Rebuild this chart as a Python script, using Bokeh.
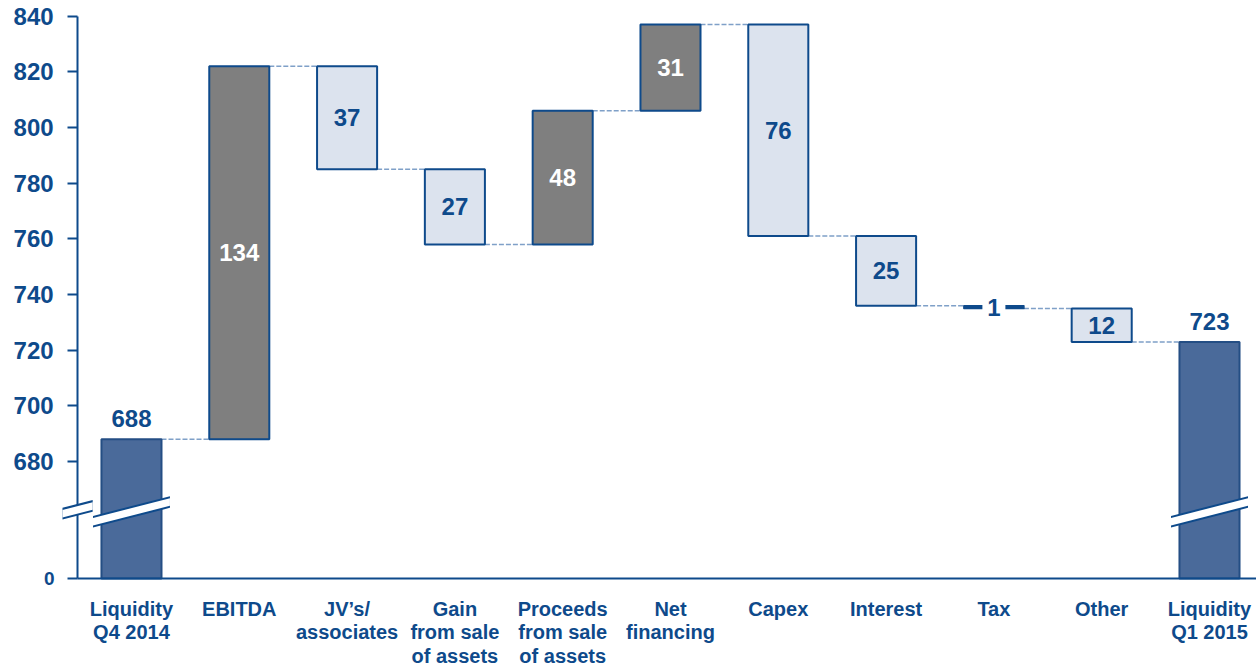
from bokeh.plotting import figure
from bokeh.models import ColumnDataSource, FixedTicker, PolyAnnotation, Label
from bokeh.embed import file_html
from bokeh.resources import INLINE
from bokeh.core.properties import value

# ---------------- data ----------------
categories = ["Liquidity\nQ4 2014", "EBITDA", "JV\u2019s/\nassociates", "Gain\nfrom sale\nof assets",
              "Proceeds\nfrom sale\nof assets", "Net\nfinancing", "Capex", "Interest", "Tax", "Other",
              "Liquidity\nQ1 2015"]
start_total = 688
changes = [134, -37, -27, 48, 31, -76, -25, -1, -12]
end_total = 723
y_tick_values = [0, 680, 700, 720, 740, 760, 780, 800, 820, 840]

# ---------------- styling ----------------
FONT = "Liberation Sans"
DARK = "#0E4A8B"
TOTAL_FILL = "#4A6A9A"
TOTAL_LINE = "#244E84"
UP_FILL = "#7F7F7F"
DOWN_FILL = "#DCE3EE"
CONNECT = "#7FA0C8"
W = 0.557
BREAK_LO = 680          # axis is broken below this value
BASE = 638              # display position of value 0
X_START, X_END = -1.215, 10.436
Y_START, Y_END = 605.7, 845.6
AXIS_X = -0.5
LABEL_GAP = 7.4


def disp(v):
    return v if v >= BREAK_LO else BASE


# ---------------- derived geometry ----------------
n = len(categories)
xs = list(range(n))
levels = [start_total]
for c in changes:
    levels.append(levels[-1] + c)

bar_x, bar_bot, bar_top, fills, lines = [], [], [], [], []
lab_x, lab_y, lab_txt, lab_col = [], [], [], []
tax_x, tax_bot, tax_top, tax_lab = [], [], [], []
top_x, top_y, top_txt = [], [], []

# start total
bar_x.append(0); bar_bot.append(disp(0)); bar_top.append(start_total)
fills.append(TOTAL_FILL); lines.append(TOTAL_LINE)
top_x.append(0); top_y.append(start_total + LABEL_GAP); top_txt.append(str(start_total))

for i, c in enumerate(changes):
    x = i + 1
    a, b = levels[i], levels[i + 1]
    if abs(c) < 2:
        tax_x.append(x); tax_bot.append(min(a, b)); tax_top.append(max(a, b)); tax_lab.append(str(abs(c)))
        continue
    bar_x.append(x); bar_bot.append(min(a, b)); bar_top.append(max(a, b))
    fills.append(UP_FILL if c > 0 else DOWN_FILL); lines.append(DARK)
    lab_x.append(x); lab_y.append((a + b) / 2); lab_txt.append(str(abs(c)))
    lab_col.append("white" if c > 0 else DARK)

# end total
bar_x.append(n - 1); bar_bot.append(disp(0)); bar_top.append(end_total)
fills.append(TOTAL_FILL); lines.append(TOTAL_LINE)
top_x.append(n - 1); top_y.append(end_total + LABEL_GAP); top_txt.append(str(end_total))

bars = ColumnDataSource(dict(left=[x - W / 2 for x in bar_x], right=[x + W / 2 for x in bar_x],
                             bottom=bar_bot, top=bar_top, fill=fills, line=lines))

# connectors between consecutive bars at running level
cx0 = [i + W / 2 for i in range(n - 1)]
cx1 = [i + 1 - W / 2 for i in range(n - 1)]
cy = levels[:]

# ---------------- figure ----------------
p = figure(width=1256, height=668, x_range=(X_START, X_END), y_range=(Y_START, Y_END),
           output_backend="svg", toolbar_location=None,
           min_border_left=0, min_border_right=0, min_border_top=0, min_border_bottom=0)
p.outline_line_color = None
p.grid.visible = False
p.background_fill_color = "white"
p.border_fill_color = "white"

p.segment(x0=cx0, y0=cy, x1=cx1, y1=cy, line_color=CONNECT, line_width=1.5, line_dash="5 2")

p.quad(left="left", right="right", bottom="bottom", top="top", fill_color="fill",
       line_color="line", line_width=2, source=bars)

# tax marker
tax_mid = [(a + b) / 2 for a, b in zip(tax_bot, tax_top)]
p.quad(left=[x - W / 2 for x in tax_x], right=[x + W / 2 for x in tax_x], bottom=tax_bot, top=tax_top,
       fill_color=DARK, line_color=DARK, line_width=1.5, line_join="round")
p.rect(x=tax_x, y=tax_mid, width=23, height=20,
       width_units="screen", height_units="screen", fill_color="white", line_color=None)
p.text(x=tax_x, y=tax_mid, text=tax_lab,
       text_font=value(FONT), text_font_style="bold", text_font_size="24px",
       text_align="center", text_baseline="middle", text_color=DARK)

# bar-break bands on the two totals
HALF = 0.357
y_a, y_b = 658.4, 665.5
OUT, INN = 2.1, 1.35
for x in (0, n - 1):
    p.patch(x=[x - HALF, x + HALF, x + HALF, x - HALF], y=[y_a - OUT, y_b - OUT, y_b + OUT, y_a + OUT],
            fill_color=DARK, line_color=None)
    p.patch(x=[x - HALF, x + HALF, x + HALF, x - HALF], y=[y_a - INN, y_b - INN, y_b + INN, y_a + INN],
            fill_color="white", line_color=None)

# value labels
p.text(x=lab_x, y=lab_y, text=lab_txt, text_color=lab_col, text_font=value(FONT), text_font_style="bold",
       text_font_size="24px", text_align="center", text_baseline="middle")
p.text(x=top_x, y=top_y, text=top_txt, text_color=DARK, text_font=value(FONT), text_font_style="bold",
       text_font_size="24px", text_align="center", text_baseline="middle")

# axes
yticks = [disp(v) for v in y_tick_values]
p.yaxis.fixed_location = AXIS_X
p.yaxis.ticker = FixedTicker(ticks=yticks)
p.yaxis.major_label_overrides = {disp(v): ("" if v < BREAK_LO else str(v)) for v in y_tick_values}
p.yaxis.bounds = (BASE, 840)
p.yaxis.axis_line_color = DARK
p.yaxis.axis_line_width = 2
p.yaxis.major_tick_line_color = DARK
p.yaxis.major_tick_line_width = 2
p.yaxis.major_tick_out = 10
p.yaxis.major_tick_in = 0
p.yaxis.minor_tick_line_color = None
p.yaxis.major_label_standoff = 14
p.yaxis.major_label_text_font = FONT
p.yaxis.major_label_text_font_style = "bold"
p.yaxis.major_label_text_font_size = "24px"
p.yaxis.major_label_text_color = DARK

p.xaxis.fixed_location = BASE
p.xaxis.ticker = FixedTicker(ticks=xs)
p.xaxis.bounds = (AXIS_X, X_END)
p.xaxis.major_label_overrides = {i: c for i, c in enumerate(categories)}
p.xaxis.axis_line_color = DARK
p.xaxis.axis_line_width = 2
p.xaxis.major_tick_line_color = None
p.xaxis.minor_tick_line_color = None
p.xaxis.major_tick_out = 0
p.xaxis.major_label_standoff = 19
p.xaxis.major_label_text_font = FONT
p.xaxis.major_label_text_font_style = "bold"
p.xaxis.major_label_text_font_size = "20px"
p.xaxis.major_label_text_line_height = 1.07
p.xaxis.major_label_text_color = DARK

# axis break on y axis and the "0" label
ax0, ax1 = -0.64, -0.36
ya0, ya1 = 661.3, 664.1
p.add_layout(PolyAnnotation(xs=[ax0, ax1, ax1, ax0], ys=[ya0 - OUT, ya1 - OUT, ya1 + OUT, ya0 + OUT],
                            fill_color=DARK, fill_alpha=1, line_color=None))
p.add_layout(PolyAnnotation(xs=[ax0, ax1, ax1, ax0], ys=[ya0 - INN, ya1 - INN, ya1 + INN, ya0 + INN],
                            fill_color="white", fill_alpha=1, line_color=None))
p.add_layout(Label(x=AXIS_X, y=BASE, x_offset=-23, text="0", text_align="right", text_baseline="middle",
                   text_font=FONT, text_font_style="bold", text_font_size="19px", text_color=DARK))

open("out.html", "w").write(file_html(p, INLINE))
